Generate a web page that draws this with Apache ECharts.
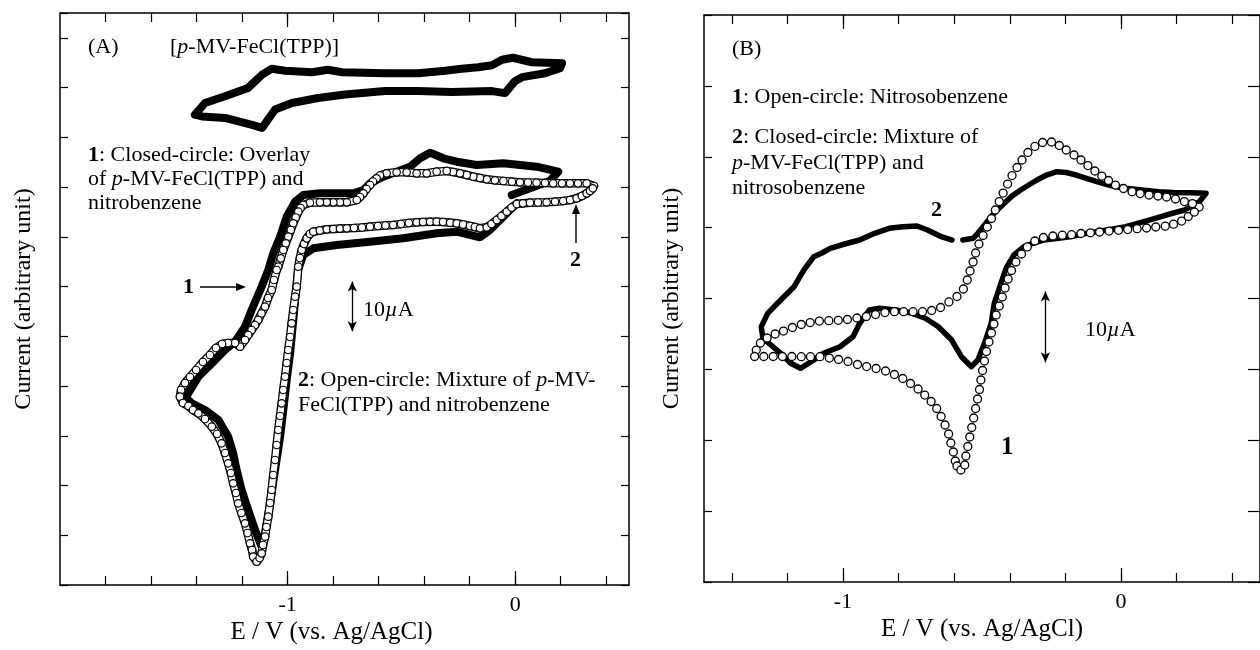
<!DOCTYPE html>
<html><head><meta charset="utf-8">
<script src="https://cdn.jsdelivr.net/npm/echarts@6/dist/echarts.min.js"></script>
<style>html,body{margin:0;padding:0;background:#fff}#c{width:1260px;height:650px}</style>
</head><body><div id="c"></div>
<script>
// ---------------- DATA (E / V, current in µA, arbitrary offset) ----------------
// Panel A tick values
const xMinorTicksA = [-1.8,-1.6,-1.4,-1.2,-1.0,-0.8,-0.6,-0.4,-0.2,0,0.2,0.4];
const xMajorTicksA = [-1, 0];
// Panel B tick values
const xMinorTicksB = [-1.4,-1.2,-1.0,-0.8,-0.6,-0.4,-0.2,0,0.2,0.4];
const xMajorTicksB = [-1, 0];

// Panel A: [p-MV-FeCl(TPP)] alone (closed circles)
const cvA_porphyrin = [[-1.407,94.55],[-1.363,96.91],[-1.275,98.25],[-1.174,99.92],[-1.112,102.6],[-1.069,103.8],[-1.011,103.4],[-0.893,103.1],[-0.823,103.6],[-0.761,103.1],[-0.572,102.9],[-0.427,102.9],[-0.308,103.4],[-0.234,103.8],[-0.163,104.1],[-0.102,104.5],[-0.058,105.6],[-0.010,106.0],[0.074,105.1],[0.206,104.9],[0.197,103.9],[0.131,102.9],[0.030,102.1],[-0.001,101.3],[-0.045,98.9],[-0.102,99.3],[-0.278,99.1],[-0.427,99.3],[-0.572,99.3],[-0.748,98.6],[-0.866,97.9],[-0.981,96.9],[-1.055,95.6],[-1.112,91.9],[-1.156,92.5],[-1.275,93.9],[-1.376,94.2],[-1.407,94.55]];

// Panel A curve 1: overlay (closed circles)
const cvA_overlay = [[-0.015,78.4],[0.065,79.76],[0.153,81.29],[0.189,83.09],[0.094,84.10],[-0.052,84.78],[-0.169,84.44],[-0.257,85.10],[-0.316,85.79],[-0.374,86.92],[-0.418,85.79],[-0.462,84.10],[-0.521,83.09],[-0.580,82.09],[-0.638,80.76],[-0.667,79.41],[-0.711,78.75],[-0.784,78.75],[-0.858,78.75],[-0.931,78.41],[-0.967,77.06],[-1.004,74.05],[-1.033,70.03],[-1.063,66.69],[-1.085,63.33],[-1.114,59.97],[-1.158,55.29],[-1.187,51.93],[-1.231,48.92],[-1.275,47.25],[-1.333,44.57],[-1.392,41.88],[-1.436,38.54],[-1.451,37.86],[-1.421,36.53],[-1.363,35.18],[-1.304,33.17],[-1.261,29.82],[-1.239,26.48],[-1.224,23.12],[-1.202,19.10],[-1.173,15.08],[-1.143,11.06],[-1.114,7.70],[-1.099,10.39],[-1.077,16.43],[-1.055,23.12],[-1.033,29.82],[-1.019,35.18],[-1.004,41.22],[-0.989,46.58],[-0.975,53.28],[-0.963,59.3],[-0.954,63.33],[-0.931,66.35],[-0.887,67.69],[-0.784,68.36],[-0.638,69.02],[-0.492,69.70],[-0.345,70.71],[-0.257,71.03],[-0.199,70.37],[-0.155,69.90],[-0.111,71.37],[-0.052,74.05],[-0.023,75.39],[0.007,76.74]];

// Panel A curve 2: mixture (open circles)
const cvA_mixture = [[0.346,80.22],[0.314,80.76],[0.276,80.76],[0.241,80.76],[0.206,80.76],[0.167,80.76],[0.131,80.82],[0.094,80.88],[0.056,80.92],[0.021,80.96],[-0.014,81.08],[-0.052,81.22],[-0.089,81.36],[-0.125,81.57],[-0.155,81.83],[-0.184,82.09],[-0.213,82.43],[-0.243,82.77],[-0.273,83.03],[-0.301,83.23],[-0.345,83.09],[-0.389,82.77],[-0.433,82.77],[-0.477,82.97],[-0.521,82.97],[-0.565,82.77],[-0.594,82.33],[-0.609,81.77],[-0.625,81.12],[-0.638,80.42],[-0.653,79.62],[-0.667,78.75],[-0.682,78.01],[-0.696,77.40],[-0.740,76.94],[-0.770,76.94],[-0.799,76.94],[-0.828,76.94],[-0.858,76.94],[-0.902,76.86],[-0.931,76.40],[-0.943,75.80],[-0.953,75.05],[-0.964,73.89],[-0.975,72.72],[-0.986,71.37],[-0.997,70.03],[-1.008,68.70],[-1.019,67.35],[-1.030,65.68],[-1.041,63.99],[-1.048,63.33],[-1.060,61.32],[-1.070,59.31],[-1.086,57.70],[-1.099,55.95],[-1.115,54.59],[-1.129,53.28],[-1.143,52.27],[-1.158,51.27],[-1.173,50.26],[-1.187,49.26],[-1.209,47.91],[-1.231,48.65],[-1.262,48.65],[-1.288,48.45],[-1.315,47.65],[-1.341,46.24],[-1.372,44.83],[-1.402,43.23],[-1.429,41.82],[-1.451,40.61],[-1.468,39.20],[-1.473,37.86],[-1.460,36.59],[-1.436,35.99],[-1.416,35.18],[-1.392,34.52],[-1.363,33.37],[-1.333,31.83],[-1.310,30.36],[-1.290,28.49],[-1.275,26.54],[-1.261,24.47],[-1.249,22.52],[-1.239,20.45],[-1.227,18.50],[-1.217,16.43],[-1.203,14.48],[-1.187,12.40],[-1.176,10.45],[-1.165,8.38],[-1.156,7.04],[-1.151,5.69],[-1.136,4.68],[-1.123,5.43],[-1.114,6.37],[-1.108,8.04],[-1.099,9.71],[-1.093,11.66],[-1.085,13.73],[-1.077,16.49],[-1.070,19.10],[-1.063,22.12],[-1.055,25.13],[-1.048,28.15],[-1.041,31.16],[-1.033,33.98],[-1.026,36.53],[-1.019,39.20],[-1.011,41.88],[-1.004,44.63],[-0.997,47.25],[-0.989,49.86],[-0.982,52.61],[-0.975,55.29],[-0.967,57.96],[-0.960,59.97],[-0.953,63.99],[-0.946,65.74],[-0.938,67.35],[-0.928,68.56],[-0.916,69.70],[-0.902,70.57],[-0.887,71.03],[-0.858,71.27],[-0.828,71.51],[-0.799,71.57],[-0.770,71.65],[-0.740,71.71],[-0.708,71.77],[-0.673,71.88],[-0.638,72.04],[-0.603,72.18],[-0.570,72.28],[-0.536,72.38],[-0.502,72.58],[-0.467,72.78],[-0.433,72.92],[-0.405,72.98],[-0.374,73.02],[-0.345,73.04],[-0.317,72.98],[-0.286,72.84],[-0.257,72.72],[-0.229,72.48],[-0.199,72.18],[-0.177,71.98],[-0.155,71.71],[-0.125,71.92],[-0.104,72.58],[-0.081,73.38],[-0.060,74.19],[-0.037,75.05],[-0.016,75.90],[0.007,76.60],[0.034,76.74],[0.065,76.86],[0.100,76.90],[0.138,76.94],[0.175,77.06],[0.211,77.20],[0.241,77.40],[0.270,77.75],[0.293,78.21],[0.314,78.75],[0.329,79.21],[0.341,79.76]];

// Panel B curve 1: nitrosobenzene (open circles)
const cvB_nitroso = [[0.281,52.91],[0.257,53.40],[0.228,53.68],[0.196,54.04],[0.164,54.32],[0.133,54.46],[0.101,54.60],[0.069,54.81],[0.040,55.07],[0.009,55.52],[-0.020,56.01],[-0.045,56.65],[-0.069,57.28],[-0.094,57.99],[-0.119,58.76],[-0.144,59.54],[-0.169,60.25],[-0.197,60.95],[-0.222,61.59],[-0.250,62.08],[-0.282,62.01],[-0.310,61.45],[-0.335,60.60],[-0.356,59.54],[-0.374,58.48],[-0.392,57.35],[-0.408,56.15],[-0.424,54.88],[-0.438,53.68],[-0.452,52.49],[-0.466,51.29],[-0.481,50.09],[-0.496,48.89],[-0.511,47.69],[-0.523,46.42],[-0.532,45.15],[-0.543,43.88],[-0.553,42.61],[-0.567,41.34],[-0.590,40.28],[-0.619,39.51],[-0.649,38.73],[-0.681,38.31],[-0.714,38.14],[-0.748,38.14],[-0.782,38.14],[-0.815,38.14],[-0.849,38.02],[-0.883,37.74],[-0.916,37.46],[-0.950,37.25],[-0.984,37.04],[-1.017,36.92],[-1.051,36.87],[-1.085,36.82],[-1.118,36.61],[-1.150,36.33],[-1.182,35.91],[-1.214,35.41],[-1.244,34.99],[-1.273,34.43],[-1.297,33.72],[-1.312,32.73],[-1.318,31.82],[-1.285,31.82],[-1.251,31.82],[-1.218,31.82],[-1.184,31.82],[-1.150,31.79],[-1.117,31.79],[-1.083,31.79],[-1.049,31.60],[-1.016,31.39],[-0.982,31.11],[-0.948,30.69],[-0.915,30.40],[-0.881,30.12],[-0.847,29.77],[-0.815,29.28],[-0.785,28.71],[-0.757,28.01],[-0.730,27.23],[-0.706,26.38],[-0.683,25.47],[-0.663,24.48],[-0.647,23.35],[-0.633,22.15],[-0.620,20.88],[-0.612,19.61],[-0.603,18.34],[-0.596,17.07],[-0.590,16.37],[-0.576,15.80],[-0.562,16.51],[-0.558,17.78],[-0.551,19.12],[-0.544,20.46],[-0.537,21.80],[-0.530,23.14],[-0.523,24.48],[-0.516,25.82],[-0.509,27.16],[-0.504,28.50],[-0.498,29.84],[-0.491,31.18],[-0.484,32.52],[-0.475,33.86],[-0.466,35.13],[-0.457,36.40],[-0.449,37.67],[-0.438,38.94],[-0.427,40.21],[-0.417,41.48],[-0.406,42.75],[-0.394,43.95],[-0.378,45.15],[-0.358,46.28],[-0.337,47.27],[-0.310,48.11],[-0.279,48.61],[-0.245,48.82],[-0.211,48.93],[-0.178,49.00],[-0.144,49.17],[-0.110,49.27],[-0.077,49.38],[-0.043,49.52],[-0.009,49.62],[0.024,49.73],[0.058,49.85],[0.092,49.95],[0.125,50.09],[0.159,50.20],[0.189,50.48],[0.218,50.93],[0.242,51.57],[0.264,52.20]];

// Panel B curve 2: mixture with p-MV-FeCl(TPP) (closed circles)
const cvB_mixture = [[-0.569,48.25],[-0.532,48.49],[-0.515,49.20],[-0.494,50.23],[-0.467,51.54],[-0.445,52.49],[-0.420,53.43],[-0.392,54.46],[-0.361,55.31],[-0.332,56.01],[-0.302,56.72],[-0.268,57.42],[-0.231,57.89],[-0.197,57.78],[-0.161,57.42],[-0.116,56.86],[-0.066,56.25],[-0.023,55.80],[0.017,55.55],[0.076,55.31],[0.135,55.07],[0.189,54.95],[0.253,54.93],[0.306,54.84],[0.282,53.66],[0.229,52.49],[0.182,51.99],[0.135,51.46],[0.076,50.79],[0.017,50.13],[-0.038,49.73],[-0.090,49.42],[-0.137,49.10],[-0.184,48.72],[-0.232,48.46],[-0.279,48.25],[-0.314,47.83],[-0.349,47.31],[-0.385,46.14],[-0.413,44.30],[-0.432,42.14],[-0.456,39.32],[-0.467,36.50],[-0.491,33.68],[-0.515,31.32],[-0.538,30.38],[-0.574,31.79],[-0.609,34.14],[-0.657,36.02],[-0.704,37.21],[-0.751,37.91],[-0.810,38.38],[-0.869,38.62],[-0.905,38.38],[-0.940,36.50],[-0.964,34.61],[-1.011,33.20],[-1.070,32.27],[-1.105,31.32],[-1.153,30.15],[-1.188,30.86],[-1.224,32.27],[-1.259,33.44],[-1.288,34.38],[-1.294,36.02],[-1.271,37.91],[-1.224,39.79],[-1.176,41.66],[-1.141,44.02],[-1.105,45.90],[-1.076,46.42],[-1.046,47.08],[-0.994,47.69],[-0.940,48.25],[-0.886,49.20],[-0.834,49.90],[-0.785,50.13],[-0.734,50.23],[-0.696,49.66],[-0.646,48.72],[-0.608,48.25]];

// 10 µA scale bars: [E, startCurrent]
const scaleBarA = [-0.716, 51];
const scaleBarB = [-0.272, 31];
const scaleLen = 10;

// ---------------- CHART ----------------
const FONT = 'Liberation Serif';
const BLACK = '#000';

function xAxes(grid, min, max, minor, major, interval, name, namePad) {
  const base = {type:'value', gridIndex:grid, min:min, max:max, splitLine:{show:false}};
  const line = {show:true, onZero:false, lineStyle:{color:BLACK, width:1.5}};
  const noLine = {show:false, onZero:false};
  return [
    Object.assign({}, base, {position:'bottom', interval:interval, axisLine:line,
      axisTick:{show:true, inside:true, length:9, customValues:minor, lineStyle:{color:BLACK, width:1.2}},
      axisLabel:{show:false},
      name:name, nameLocation:'middle', nameGap:35,
      nameTextStyle:{fontFamily:FONT, fontSize:25, color:BLACK, padding:namePad}}),
    Object.assign({}, base, {position:'bottom', interval:1, axisLine:noLine,
      axisTick:{show:true, inside:true, length:14, customValues:major, lineStyle:{color:BLACK, width:1.2}},
      axisLabel:{show:true, customValues:major, margin:9, fontFamily:FONT, fontSize:22, color:BLACK,
        formatter:function(v){ return (major.indexOf(v) >= 0) ? String(v) : ''; }}}),
    Object.assign({}, base, {position:'top', interval:interval, axisLine:line,
      axisTick:{show:true, inside:true, length:9, customValues:minor, lineStyle:{color:BLACK, width:1.2}},
      axisLabel:{show:false}}),
    Object.assign({}, base, {position:'top', interval:1, axisLine:noLine,
      axisTick:{show:true, inside:true, length:14, customValues:major, lineStyle:{color:BLACK, width:1.2}},
      axisLabel:{show:false}})
  ];
}
function yAxes(grid, min, max, gap, rightLen) {
  const base = {type:'value', gridIndex:grid, min:min, max:max, interval:10, splitLine:{show:false},
    axisLine:{show:true, onZero:false, lineStyle:{color:BLACK, width:1.5}}, axisLabel:{show:false}};
  return [
    Object.assign({}, base, {position:'left',
      axisTick:{show:true, inside:true, length:8, lineStyle:{color:BLACK, width:1.2}},
      name:'Current (arbitrary unit)', nameLocation:'middle', nameGap:gap, nameRotate:90,
      nameTextStyle:{fontFamily:FONT, fontSize:24, color:BLACK}}),
    Object.assign({}, base, {position:'right',
      axisTick:{show:true, inside:true, length:rightLen, lineStyle:{color:BLACK, width:1.2}}})
  ];
}

function scaleMark(bar) {
  return {silent:true, symbol:['arrow','arrow'], symbolSize:[7,10], label:{show:false},
    lineStyle:{color:BLACK, width:1.3, type:'solid'}, emphasis:{disabled:true},
    data:[[{coord:[bar[0], bar[1]]}, {coord:[bar[0], bar[1] + scaleLen]}]]};
}

const closedLine = (w) => ({color:BLACK, width:w, join:'round', cap:'round'});

const rich = (s) => ({
  b:{fontWeight:'bold', fontSize:s, fontFamily:FONT, fill:BLACK},
  i:{fontStyle:'italic', fontSize:s, fontFamily:FONT, fill:BLACK}
});
function txt(x, y, text, size, weight) {
  return {type:'text', x:x, y:y, z:100, style:{text:text, fontSize:size, fontFamily:FONT,
    fontWeight:weight || 'normal', fill:BLACK, align:'left', verticalAlign:'middle', rich:rich(size)}};
}
function arrow(x1, y1, x2, y2) {
  const dx = x2 - x1, dy = y2 - y1, L = Math.sqrt(dx*dx + dy*dy), ux = dx/L, uy = dy/L;
  const hl = 10, hw = 4;
  const bx = x2 - ux*hl, by = y2 - uy*hl;
  return [
    {type:'line', z:100, shape:{x1:x1, y1:y1, x2:bx, y2:by}, style:{stroke:BLACK, lineWidth:1.4}},
    {type:'polygon', z:100, shape:{points:[[x2,y2],[bx - uy*hw, by + ux*hw],[bx + uy*hw, by - ux*hw]]}, style:{fill:BLACK}}
  ];
}

const option = {
  animation:false,
  backgroundColor:'#fff',
  grid:[
    {left:60, top:13, width:569, height:572},
    {left:704, top:15, width:566, height:567}
  ],
  xAxis: xAxes(0, -2, 0.5, xMinorTicksA, xMajorTicksA, 0.2, 'E / V (vs. Ag/AgCl)', [0, 26, 0, 0])
    .concat(xAxes(1, -1.5, 0.5, xMinorTicksB, xMajorTicksB, 0.1, 'E / V (vs. Ag/AgCl)', [0, 0, 0, 0])),
  yAxis: yAxes(0, 0, 115, 24, 8).concat(yAxes(1, 0, 80, 20, 12)),
  series:[
    {name:'[p-MV-FeCl(TPP)]', type:'line', xAxisIndex:0, yAxisIndex:0, data:cvA_porphyrin,
      symbol:'none', lineStyle:closedLine(8), markLine:scaleMark(scaleBarA)},
    {name:'1 overlay', type:'line', xAxisIndex:0, yAxisIndex:0, data:cvA_overlay,
      symbol:'none', lineStyle:closedLine(8)},
    {name:'2 mixture outline', type:'line', xAxisIndex:0, yAxisIndex:0, data:cvA_mixture,
      symbol:'none', lineStyle:{color:BLACK, width:8.6, join:'round', cap:'round'}},
    {name:'2 mixture', type:'line', xAxisIndex:0, yAxisIndex:0, data:cvA_mixture,
      symbol:'circle', symbolSize:7.5, showAllSymbol:true,
      lineStyle:{color:'#fff', width:6, join:'round', cap:'round'},
      itemStyle:{color:'#fff', borderColor:BLACK, borderWidth:1.2}},
    {name:'2 mixture B', type:'line', xAxisIndex:4, yAxisIndex:2, data:cvB_mixture,
      symbol:'none', lineStyle:closedLine(5.5), markLine:scaleMark(scaleBarB)},
    {name:'1 nitrosobenzene', type:'line', xAxisIndex:4, yAxisIndex:2, data:cvB_nitroso,
      symbol:'circle', symbolSize:8, showAllSymbol:true, lineStyle:{opacity:0},
      itemStyle:{color:'#fff', borderColor:BLACK, borderWidth:1.3}}
  ],
  graphic:[
    txt(88, 47, '(A)', 22),
    txt(170, 47, '[{i|p}-MV-FeCl(TPP)]', 22),
    txt(88, 155, '{b|1}: Closed-circle: Overlay', 22),
    txt(88, 179, 'of {i|p}-MV-FeCl(TPP) and', 22),
    txt(88, 203, 'nitrobenzene', 22),
    txt(183, 287, '1', 22, 'bold'),
    txt(570, 260, '2', 22, 'bold'),
    txt(363, 310, '10{i|\u00b5}A', 22),
    txt(298, 380, '{b|2}: Open-circle: Mixture of {i|p}-MV-', 22),
    txt(298, 405, 'FeCl(TPP) and nitrobenzene', 22),
    txt(732, 49, '(B)', 22),
    txt(732, 97, '{b|1}: Open-circle: Nitrosobenzene', 22),
    txt(732, 137, '{b|2}: Closed-circle: Mixture of', 22),
    txt(732, 163, '{i|p}-MV-FeCl(TPP) and', 22),
    txt(732, 188, 'nitrosobenzene', 22),
    txt(931, 210, '2', 22, 'bold'),
    txt(1001, 448, '1', 25, 'bold'),
    txt(1085, 330, '10{i|\u00b5}A', 22)
  ].concat(arrow(200, 287, 246, 287)).concat(arrow(576, 243, 576, 204))
};

const chart = echarts.init(document.getElementById('c'), null, {renderer:'canvas'});
chart.setOption(option);
</script></body></html>
